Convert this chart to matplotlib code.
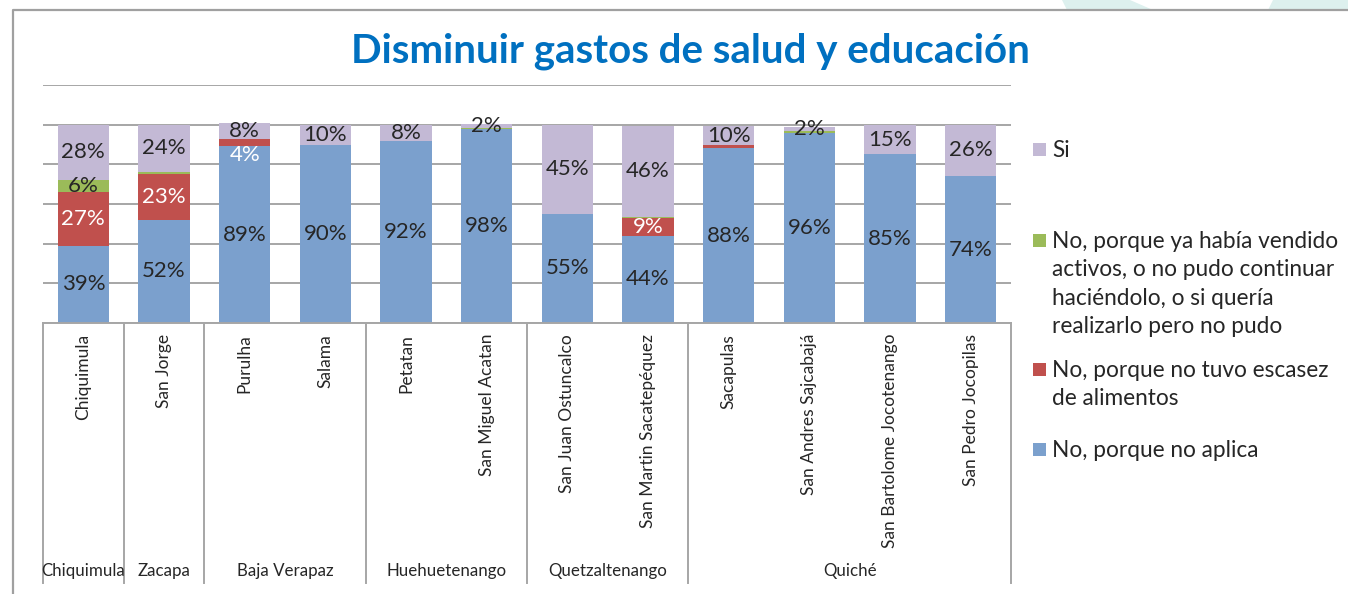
import matplotlib
matplotlib.use("Agg")
import matplotlib.pyplot as plt
from matplotlib.patches import Rectangle, Polygon
from matplotlib.lines import Line2D
from matplotlib.transforms import blended_transform_factory
import numpy as np

# ---------------- data ----------------
municipios = ["Chiquimula", "San Jorge", "Purulha", "Salama", "Petatan",
              "San Miguel Acatan", "San Juan Ostuncalco", "San Martin Sacatepéquez",
              "Sacapulas", "San Andres Sajcabajá", "San Bartolome Jocotenango",
              "San Pedro Jocopilas"]
departamentos = ["Chiquimula", "Zacapa", "Baja Verapaz", "Huehuetenango",
                 "Quetzaltenango", "Quiché"]
depto_sizes = [1, 1, 2, 2, 2, 4]

no_aplica = [39, 52, 89, 90, 92, 98, 55, 44, 88, 96, 85, 74]
no_escasez = [27, 23, 4, 0, 0, 0, 0, 9, 1.5, 0, 0, 0]
no_vendido = [6, 1, 0, 0, 0, 0.5, 0, 0.5, 0, 1, 0, 0]
si = [28, 24, 8, 10, 8, 2, 45, 46, 10, 2, 15, 26]

series_names = ["No, porque no aplica",
                "No, porque no tuvo escasez de alimentos",
                "No, porque ya había vendido activos, o no pudo continuar haciéndolo, o si quería realizarlo pero no pudo",
                "Si"]
legend_lines = {
    "Si": ["Si"],
    "No, porque ya había vendido activos, o no pudo continuar haciéndolo, o si quería realizarlo pero no pudo":
        ["No, porque ya había vendido", "activos, o no pudo continuar",
         "haciéndolo, o si quería", "realizarlo pero no pudo"],
    "No, porque no tuvo escasez de alimentos": ["No, porque no tuvo escasez", "de alimentos"],
    "No, porque no aplica": ["No, porque no aplica"],
}
title = "Disminuir gastos de salud y educación"

# ---------------- style ----------------
W, H = 1348, 594
colors = ["#7BA0CD", "#C0504D", "#9BBB59", "#C3B9D5"]
label_colors = ["#262626", "white", "#262626", "#262626"]
grid_col = "#A6A6A6"
font = "Lato"

def fx(x):
    return x / W

def fy(y):
    return 1 - y / H

fig = plt.figure(figsize=(W / 100, H / 100), dpi=100)
fig.patch.set_facecolor("white")

# decorative background shapes
fig.patches.append(Polygon([(fx(1062), fy(0)), (fx(1130), fy(0)), (fx(1153), fy(10)), (fx(1067), fy(10))],
                           closed=True, transform=fig.transFigure, facecolor="#DDF0EE", edgecolor="none"))
fig.patches.append(Polygon([(fx(1273), fy(0)), (fx(1348), fy(0)), (fx(1348), fy(10)), (fx(1268), fy(10))],
                           closed=True, transform=fig.transFigure, facecolor="#DDF0EE", edgecolor="none"))
# outer frame
fig.lines.append(Line2D([fx(13), fx(13), fx(1348)], [fy(594), fy(10), fy(10)],
                        transform=fig.transFigure, color="#A0A0A0", lw=1.6))

ax_left, ax_right, ax_top, ax_bottom = 43, 1011, 85, 323
ax = fig.add_axes([fx(ax_left), fy(ax_bottom), fx(ax_right) - fx(ax_left), fy(ax_top) - fy(ax_bottom)])
n = len(municipios)
x = np.arange(n)
ax.set_xlim(-0.5, n - 0.5)
ax.set_ylim(0, 120)
ax.set_yticks(np.arange(0, 121, 20))
ax.yaxis.grid(True, color=grid_col, lw=1.4)
ax.set_axisbelow(True)
ax.tick_params(left=False, bottom=False, labelleft=False, labelbottom=False)
for s in ["left", "right", "top"]:
    ax.spines[s].set_visible(False)
ax.spines["bottom"].set_color(grid_col)
ax.spines["bottom"].set_linewidth(1.4)

series = [no_aplica, no_escasez, no_vendido, si]
bottom = np.zeros(n)
bw = 0.64
label_offsets = {(1, 2): -6.5}
for k, vals in enumerate(series):
    vals = np.array(vals, dtype=float)
    ax.bar(x, vals, bw, bottom=bottom, color=colors[k], edgecolor="none", zorder=2)
    for i, v in enumerate(vals):
        if v >= 2:
            yc = bottom[i] + v / 2 + label_offsets.get((k, i), 0)
            ax.text(x[i], yc, f"{v:.0f}%", ha="center", va="center", fontsize=16,
                    color=label_colors[k], family=font, zorder=3)
    bottom += vals

# category axis
tr = blended_transform_factory(ax.transData, fig.transFigure)
bounds = np.concatenate([[0], np.cumsum(depto_sizes)]) - 0.5
for b in bounds:
    ax.add_line(Line2D([b, b], [fy(323), fy(583)], transform=tr, color=grid_col, lw=1.4, clip_on=False))
for i, name in enumerate(municipios):
    ax.text(x[i], fy(334), name, rotation=90, ha="center", va="top", fontsize=12.5,
            color="#262626", family=font, transform=tr)
for j, d in enumerate(departamentos):
    xc = (bounds[j] + bounds[j + 1]) / 2
    ax.text(xc, fy(571), d, ha="center", va="center", fontsize=12.2, color="#262626",
            family=font, transform=tr)

# title
fig.text(fx(690), fy(51), title, ha="center", va="center", fontsize=29, fontweight="bold",
         color="#0070C0", family=font)

# legend
leg_entries = [("Si", 3, [156.7]),
               (series_names[2], 2, [247.7, 276.2, 304.7, 333.2]),
               (series_names[1], 1, [376.7, 405.2]),
               (series_names[0], 0, [456.7])]
for name, k, baselines in leg_entries:
    lines = legend_lines[name]
    fig.patches.append(Rectangle((fx(1033), fy(baselines[0] - 1)), fx(13), 13 / H,
                                 transform=fig.transFigure, facecolor=colors[k], edgecolor="none"))
    for ln, yb in zip(lines, baselines):
        fig.text(fx(1052), fy(yb), ln, ha="left", va="baseline", fontsize=16.3,
                 color="#262626", family=font)

fig.savefig("out.png", dpi=100)
